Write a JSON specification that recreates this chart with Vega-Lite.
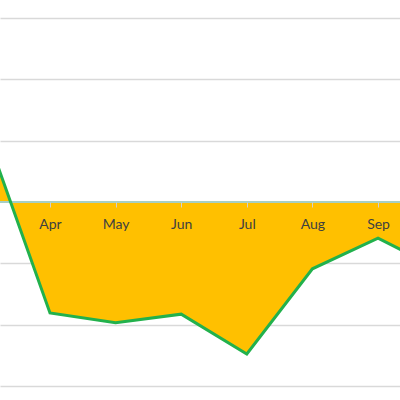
{
  "$schema": "https://vega.github.io/schema/vega-lite/v6.json",
  "width": 400,
  "height": 400,
  "autosize": "none",
  "padding": 0,
  "background": "white",
  "config": {
    "view": {"stroke": null},
    "axis": {"labelFont": "Lato", "labelColor": "#404040", "labelFontSize": 14}
  },
  "data": {
    "values": [
      {"m": 3, "value": 12},
      {"m": 4, "value": -18.1},
      {"m": 5, "value": -19.7},
      {"m": 6, "value": -18.3},
      {"m": 7, "value": -24.8},
      {"m": 8, "value": -10.9},
      {"m": 9, "value": -5.9},
      {"m": 10, "value": -11.3}
    ]
  },
  "encoding": {
    "x": {
      "field": "m",
      "type": "quantitative",
      "scale": {"domain": [3.238, 9.335], "nice": false, "zero": false}
    },
    "y": {
      "field": "value",
      "type": "quantitative",
      "scale": {"domain": [-32.3, 32.95], "nice": false, "zero": false}
    }
  },
  "layer": [
    {
      "mark": {"type": "area", "color": "#ffc000", "clip": true},
      "encoding": {
        "x": {
          "field": "m",
          "type": "quantitative",
          "axis": {
            "orient": "bottom",
            "offset": -198,
            "values": [4, 5, 6, 7, 8, 9],
            "labelExpr": "['','','','Mar','Apr','May','Jun','Jul','Aug','Sep','Oct'][datum.value]",
            "domain": false,
            "grid": false,
            "ticks": true,
            "tickColor": "#d0d0d0",
            "tickSize": 5,
            "labelPadding": 10,
            "title": null,
            "zindex": 1
          }
        },
        "y": {
          "field": "value",
          "type": "quantitative",
          "axis": {
            "values": [-30, -20, -10, 10, 20, 30],
            "labels": false,
            "ticks": false,
            "domain": false,
            "grid": true,
            "gridColor": "#d9d9d9",
            "gridWidth": 1.5,
            "title": null
          }
        }
      }
    },
    {
      "mark": {"type": "rule", "color": "#a6cfc4", "strokeWidth": 1.5},
      "encoding": {"y": {"datum": 0}, "x": null}
    },
    {
      "mark": {"type": "line", "color": "#22b14c", "strokeWidth": 3, "clip": true},
      "encoding": {}
    }
  ]
}
